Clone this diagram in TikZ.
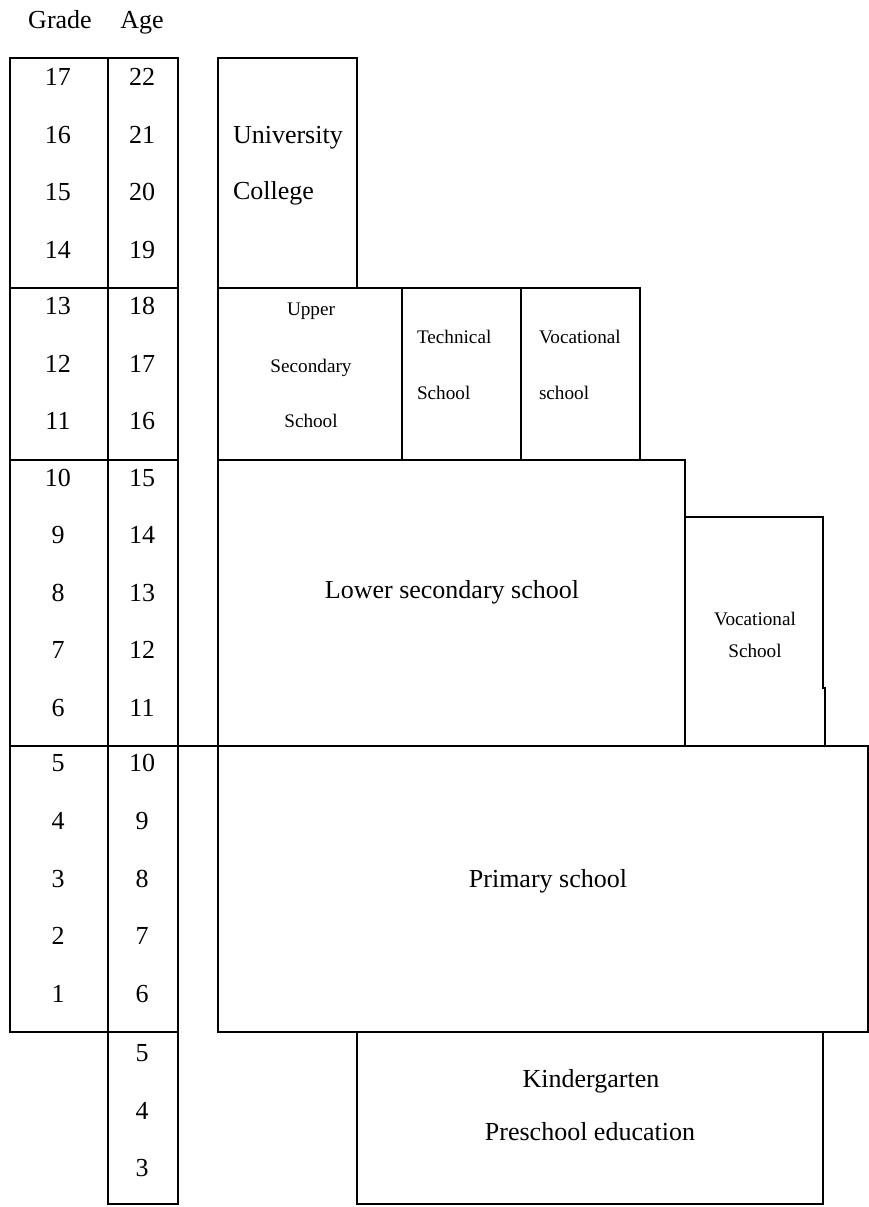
\documentclass[tikz,border=0pt]{standalone}
\usepackage{fontspec}
\setmainfont{Liberation Serif}
\usetikzlibrary{positioning, fit}

\begin{document}
\begin{tikzpicture}[
    x=0.5pt, y=-0.5pt, line width=1pt,
    box/.style={draw, inner sep=0pt, outer sep=0pt, fit={#1}},
    big/.style={anchor=base, inner sep=0pt, font=\fontsize{13}{15}\selectfont},
    small/.style={anchor=base, inner sep=0pt, font=\fontsize{9.6}{11}\selectfont}
  ]
  \useasboundingbox (0,0) rectangle (869,1207);

  % headers
  \node[big] (grade) at (60,28) {Grade};
  \node[big] (age) at (142,28) {Age};

  % grade and age columns
  \foreach \ya/\yb [count=\i] in {58/288, 288/460, 460/746, 746/1032} {
    \node[box={(10,\ya) (108,\yb)}] (g\i) {};
    \node[box={(108,\ya) (178,\yb)}] (a\i) {};
  }
  \node[box={(108,1032) (178,1204)}] (a5) {};

  \foreach \g/\a/\y in {17/22/85, 16/21/143, 15/20/200, 14/19/258,
                        13/18/314, 12/17/372, 11/16/429,
                        10/15/486, 9/14/543, 8/13/601, 7/12/658, 6/11/716,
                        5/10/771, 4/9/829, 3/8/887, 2/7/944, 1/6/1002}
    \node[big] (gr\g) at (58,\y) {\g};
  \foreach \g/\a/\y in {17/22/85, 16/21/143, 15/20/200, 14/19/258,
                        13/18/314, 12/17/372, 11/16/429,
                        10/15/486, 9/14/543, 8/13/601, 7/12/658, 6/11/716,
                        5/10/771, 4/9/829, 3/8/887, 2/7/944, 1/6/1002}
    \node[big] (ag\a) at (142,\y) {\a};
  \foreach \a/\y in {5/1061, 4/1119, 3/1176}
    \node[big] (ag\a) at (142,\y) {\a};

  % schools
  \node[box={(218,58) (357,288)}] (uni) {};
  \node[box={(218,288) (402,460)}] (upper) {};
  \node[box={(402,288) (521,460)}] (tech) {};
  \node[box={(521,288) (640,460)}] (voc) {};
  \node[box={(218,460) (685,746)}] (lower) {};
  \node[box={(218,746) (868,1032)}] (prim) {};
  \node[box={(357,1032) (823,1204)}] (kind) {};
  \draw (685,517) -- (823,517) -- (823,688) -- (825,688) -- (825,746);
  \draw (a4.north east) -- (prim.north west);

  \node[big, anchor=base west] (uni1) at (232,143) {University};
  \node[big, anchor=base west] (uni2) at (232,199) {College};
  \node[small] (up1) at (311,315) {Upper};
  \node[small] (up2) at (311,372) {Secondary};
  \node[small] (up3) at (311,427) {School};
  \node[small, anchor=base west] (tech1) at (416,343) {Technical};
  \node[small, anchor=base west] (tech2) at (416,399) {School};
  \node[small, anchor=base west] (voc1) at (538,343) {Vocational};
  \node[small, anchor=base west] (voc2) at (538,399) {school};
  \node[big] (low) at (452,598) {Lower secondary school};
  \node[small] (vocr1) at (755,625) {Vocational};
  \node[small] (vocr2) at (755,657) {School};
  \node[big] (pri) at (548,887) {Primary school};
  \node[big] (kin1) at (591,1087) {Kindergarten};
  \node[big] (kin2) at (590,1140) {Preschool education};
\end{tikzpicture}
\end{document}
